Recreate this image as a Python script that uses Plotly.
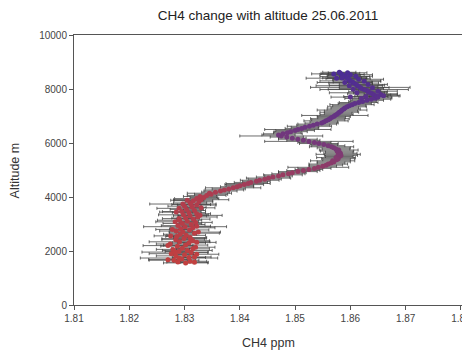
import plotly.graph_objects as go

# ---- data (altitude m, CH4 ppm, CH4 standard deviation) ----
altitude_m = [
    1560, 1590, 1620, 1660, 1700, 1740, 1780, 1820, 1860, 1900, 1940, 1980, 2020, 2060, 2100,
    2140, 2180, 2220, 2260, 2300, 2340, 2380, 2420, 2460, 2500, 2540, 2580, 2620, 2660, 2700,
    2740, 2780, 2820, 2860, 2900, 2940, 2980, 3020, 3060, 3100, 3140, 3180, 3220, 3260, 3300,
    3340, 3380, 3420, 3460, 3500, 3540, 3580, 3620, 3660, 3700, 3740, 3780, 3820, 3860, 3900,
    3940, 3980, 4020,
    1580, 1680, 1760, 1880, 1960, 2080, 2200, 2320, 2440, 2560, 2700, 2800, 2920, 3080, 3200,
    3320, 3440, 3600, 3720, 3880,
    4060, 4100, 4140, 4180, 4220, 4260, 4300, 4340, 4380, 4420, 4460, 4500, 4540, 4580, 4620,
    4660, 4700, 4740, 4780, 4820, 4860, 4900, 4940, 4980, 5020, 5060, 5100, 5140, 5180, 5220,
    5260, 5300, 5340, 5380, 5420, 5460, 5500, 5540, 5580, 5620, 5660, 5700, 5740, 5780, 5820,
    5860, 5900, 5940, 5980, 6020, 6060, 6100, 6140, 6180, 6220, 6260, 6300, 6340, 6380, 6420,
    6460, 6500, 6540, 6580, 6620, 6660, 6700, 6740, 6780, 6820, 6860, 6900, 6940, 6980, 7020,
    7060, 7100, 7140, 7180, 7220, 7260, 7300, 7340, 7380, 7420, 7460, 7500, 7540, 7580, 7620,
    7660, 7700, 7740, 7780, 7820, 7860, 7900, 7940, 7980, 8020, 8060, 8100, 8140, 8180, 8220,
    8260, 8300, 8340, 8380, 8420, 8460, 8500, 8540, 8580, 8620,
    7650, 7720, 7800, 7860, 7920, 7990, 8050, 8120, 8170, 8240, 8290, 8360, 8410, 8470, 8530,
    8600, 8560, 8400, 7700, 7750,
]

ch4_ppm = [
    1.8302, 1.8288, 1.8310, 1.8281, 1.8295, 1.8290, 1.8318, 1.8284, 1.8300, 1.8276, 1.8312, 1.8290, 1.8305, 1.8279, 1.8296,
    1.8320, 1.8287, 1.8302, 1.8274, 1.8308, 1.8291, 1.8315, 1.8284, 1.8299, 1.8310, 1.8286, 1.8303, 1.8292, 1.8318, 1.8297,
    1.8285, 1.8309, 1.8293, 1.8315, 1.8301, 1.8288, 1.8312, 1.8296, 1.8320, 1.8305, 1.8291, 1.8316, 1.8302, 1.8324, 1.8310,
    1.8298, 1.8322, 1.8308, 1.8295, 1.8318, 1.8304, 1.8290, 1.8314, 1.8300, 1.8322, 1.8297, 1.8310, 1.8326, 1.8316, 1.8330,
    1.8322, 1.8335, 1.8328,
    1.8318, 1.8270, 1.8308, 1.8322, 1.8283, 1.8315, 1.8270, 1.8322, 1.8311, 1.8275, 1.8325, 1.8278, 1.8322, 1.8283, 1.8290,
    1.8328, 1.8285, 1.8330, 1.8312, 1.8305,
    1.8340, 1.8348, 1.8345, 1.8356, 1.8365, 1.8372, 1.8380, 1.8388, 1.8395, 1.8400, 1.8408, 1.8415, 1.8420, 1.8430, 1.8436,
    1.8445, 1.8452, 1.8460, 1.8470, 1.8478, 1.8488, 1.8495, 1.8505, 1.8515, 1.8525, 1.8535, 1.8542, 1.8550, 1.8556, 1.8560,
    1.8565, 1.8570, 1.8568, 1.8575, 1.8578, 1.8574, 1.8580, 1.8583, 1.8578, 1.8582, 1.8580, 1.8576, 1.8579, 1.8574, 1.8570,
    1.8566, 1.8560, 1.8552, 1.8543, 1.8535, 1.8525, 1.8515, 1.8505, 1.8495, 1.8485, 1.8475, 1.8470, 1.8478, 1.8486, 1.8492,
    1.8500, 1.8505, 1.8512, 1.8518, 1.8526, 1.8533, 1.8540, 1.8548, 1.8552, 1.8556, 1.8560, 1.8563, 1.8566, 1.8570, 1.8572,
    1.8575, 1.8578, 1.8580, 1.8583, 1.8585, 1.8588, 1.8590, 1.8594, 1.8598, 1.8603, 1.8608, 1.8615, 1.8622, 1.8630, 1.8638,
    1.8645, 1.8650, 1.8648, 1.8643, 1.8640, 1.8636, 1.8632, 1.8630, 1.8625, 1.8620, 1.8618, 1.8615, 1.8612, 1.8610, 1.8606,
    1.8604, 1.8600, 1.8598, 1.8596, 1.8594, 1.8590, 1.8588, 1.8585, 1.8582, 1.8580,
    1.8620, 1.8628, 1.8655, 1.8612, 1.8650, 1.8605, 1.8640, 1.8598, 1.8632, 1.8590, 1.8625, 1.8615, 1.8585, 1.8610, 1.8600,
    1.8595, 1.8570, 1.8575, 1.8600, 1.8660,
]

ch4_sd = [
    0.0040, 0.0020, 0.0030, 0.0045, 0.0025, 0.0070, 0.0030, 0.0035, 0.0020, 0.0040, 0.0030, 0.0025, 0.0045, 0.0030, 0.0020,
    0.0035, 0.0030, 0.0040, 0.0025, 0.0030, 0.0055, 0.0030, 0.0025, 0.0040, 0.0030, 0.0020, 0.0035, 0.0030, 0.0045, 0.0025,
    0.0030, 0.0035, 0.0020, 0.0040, 0.0075, 0.0030, 0.0025, 0.0035, 0.0030, 0.0020, 0.0040, 0.0030, 0.0025, 0.0035, 0.0030,
    0.0045, 0.0025, 0.0030, 0.0035, 0.0020, 0.0030, 0.0040, 0.0025, 0.0030, 0.0035, 0.0060, 0.0030, 0.0025, 0.0035, 0.0050,
    0.0040, 0.0025, 0.0030,
    0.0025, 0.0035, 0.0030, 0.0040, 0.0060, 0.0030, 0.0045, 0.0035, 0.0025, 0.0030, 0.0040, 0.0030, 0.0025, 0.0035, 0.0030,
    0.0040, 0.0030, 0.0025, 0.0035, 0.0030,
    0.0035, 0.0030, 0.0040, 0.0025, 0.0030, 0.0035, 0.0030, 0.0050, 0.0030, 0.0025, 0.0035, 0.0040, 0.0030, 0.0025, 0.0035,
    0.0030, 0.0040, 0.0030, 0.0025, 0.0035, 0.0030, 0.0025, 0.0035, 0.0030, 0.0025, 0.0030, 0.0055, 0.0025, 0.0030, 0.0035,
    0.0025, 0.0030, 0.0040, 0.0025, 0.0030, 0.0035, 0.0025, 0.0030, 0.0040, 0.0030, 0.0025, 0.0030, 0.0035, 0.0025, 0.0030,
    0.0040, 0.0030, 0.0025, 0.0035, 0.0030, 0.0080, 0.0030, 0.0035, 0.0025, 0.0030, 0.0075, 0.0030, 0.0035, 0.0025, 0.0030,
    0.0035, 0.0060, 0.0030, 0.0025, 0.0040, 0.0030, 0.0035, 0.0030, 0.0025, 0.0040, 0.0030, 0.0035, 0.0025, 0.0030, 0.0060,
    0.0030, 0.0025, 0.0035, 0.0030, 0.0045, 0.0030, 0.0025, 0.0035, 0.0030, 0.0040, 0.0030, 0.0035, 0.0025, 0.0030, 0.0035,
    0.0030, 0.0025, 0.0040, 0.0030, 0.0045, 0.0030, 0.0035, 0.0025, 0.0080, 0.0040, 0.0090, 0.0035, 0.0050, 0.0030, 0.0045,
    0.0035, 0.0055, 0.0030, 0.0040, 0.0035, 0.0045, 0.0030, 0.0040, 0.0035, 0.0030,
    0.0030, 0.0040, 0.0030, 0.0050, 0.0035, 0.0045, 0.0030, 0.0060, 0.0035, 0.0050, 0.0030, 0.0045, 0.0035, 0.0030, 0.0040,
    0.0035, 0.0040, 0.0055, 0.0035, 0.0030,
]

x_ticks = [1.81, 1.82, 1.83, 1.84, 1.85, 1.86, 1.87, 1.88]
x_tick_labels = ["1.81", "1.82", "1.83", "1.84", "1.85", "1.86", "1.87", "1.88"]
y_ticks = [0, 2000, 4000, 6000, 8000, 10000]
y_tick_labels = ["0", "2000", "4000", "6000", "8000", "10000"]

FONT = "Liberation Sans, Arial, sans-serif"

fig = go.Figure()
fig.add_trace(go.Scatter(
    x=ch4_ppm,
    y=altitude_m,
    mode="markers",
    marker=dict(
        size=5,
        color=altitude_m,
        colorscale=[[0, "#c2403f"], [0.35, "#b03d4e"], [0.6, "#7a3a78"], [1, "#4a2c95"]],
        cmin=1500, cmax=8700,
        showscale=False,
        line=dict(width=0),
    ),
    error_x=dict(type="data", array=ch4_sd, color="rgba(60,60,60,0.75)", thickness=1, width=1.5),
    showlegend=False,
))

fig.update_layout(
    width=462, height=354,
    margin=dict(l=74, r=0, t=35, b=49, autoexpand=False),
    paper_bgcolor="white", plot_bgcolor="white",
    font=dict(family=FONT, color="#333"),
    title=dict(text="CH4 change with altitude 25.06.2011", x=0.58, xanchor="center",
               y=0.957, yanchor="middle", font=dict(size=13.5, color="#222")),
    xaxis=dict(
        range=[1.81, 1.8802], tickvals=x_ticks, ticktext=x_tick_labels,
        ticklabeloverflow="allow", automargin=False,
        showgrid=False, zeroline=False, showline=True, linecolor="#555", linewidth=1,
        mirror=True, ticks="outside", ticklen=4, tickcolor="#555",
        tickfont=dict(size=10, color="#444"),
    ),
    yaxis=dict(
        range=[0, 10000], tickvals=y_ticks, ticktext=y_tick_labels, automargin=False,
        showgrid=False, zeroline=False, showline=True, linecolor="#555", linewidth=1,
        ticks="outside", ticklen=4, tickcolor="#555",
        tickfont=dict(size=10, color="#444"),
    ),
    annotations=[
        dict(text="CH4 ppm", xref="paper", yref="paper", x=0.5, y=-0.141,
             xanchor="center", yanchor="middle", showarrow=False,
             font=dict(size=12.5, color="#333")),
        dict(text="Altitude m", xref="paper", yref="paper", x=-0.151, y=0.5,
             xanchor="center", yanchor="middle", showarrow=False, textangle=-90,
             font=dict(size=12.5, color="#333")),
    ],
)

fig.write_html("out.html")
